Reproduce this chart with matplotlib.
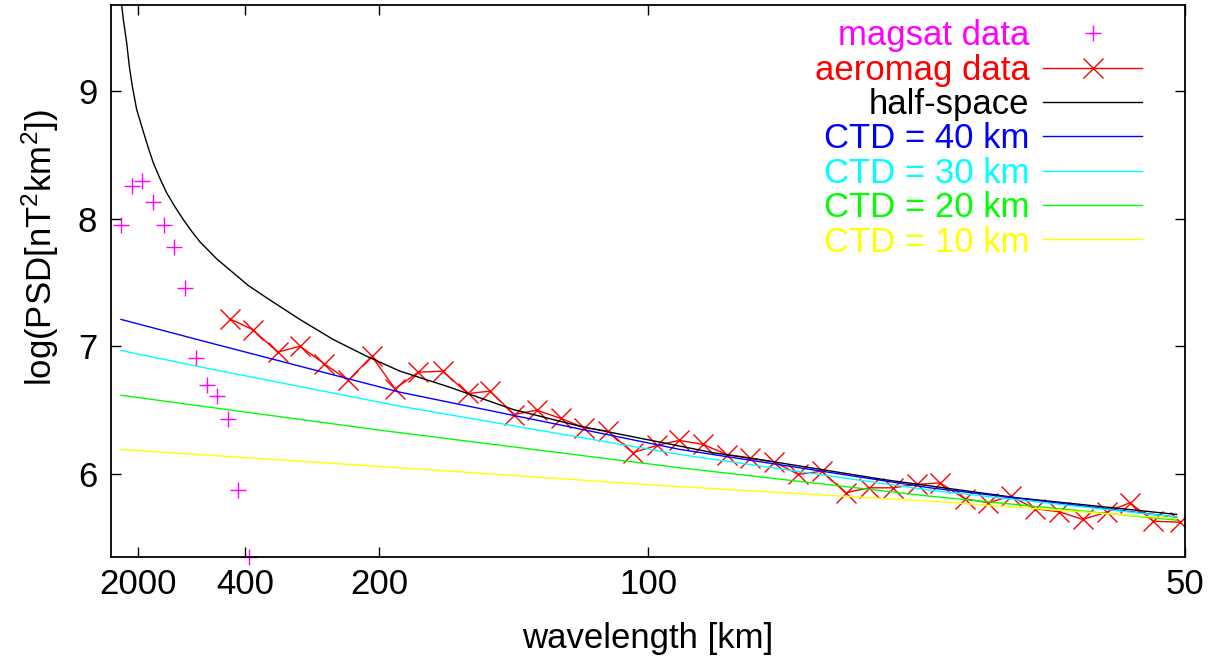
import numpy as np
import matplotlib
matplotlib.use('Agg')
import matplotlib.pyplot as plt

plt.rcParams['font.family'] = ['Liberation Sans', 'DejaVu Sans']
plt.rcParams['mathtext.fontset'] = 'custom'
plt.rcParams['mathtext.rm'] = 'Liberation Sans'
plt.rcParams['mathtext.it'] = 'Liberation Sans'
plt.rcParams['mathtext.default'] = 'rm'

# wavenumber (1/km) and log PSD
magsat_k = [0.000186, 0.000385, 0.000583, 0.000788, 0.000987, 0.001179, 0.001378,
            0.001583, 0.001782, 0.001968, 0.002173, 0.002371, 0.00257]
magsat_psd = [7.955, 8.261, 8.300, 8.130, 7.949, 7.780, 7.455,
              6.910, 6.698, 6.608, 6.431, 5.869, 5.346]

aero_k = [0.002216, 0.002639, 0.003104, 0.003520, 0.003972, 0.004419, 0.004855,
          0.005289, 0.005723, 0.006177, 0.006642, 0.007058, 0.007510, 0.007927,
          0.008380, 0.008814, 0.009261, 0.009715, 0.010162, 0.010581, 0.011030,
          0.011466, 0.011899, 0.012352, 0.012799, 0.013235, 0.013681, 0.014121,
          0.014557, 0.015004, 0.015438, 0.015903, 0.016337, 0.016754, 0.017207,
          0.017659, 0.018095, 0.018542, 0.018976, 0.019410, 0.019907]
aero_psd = [7.215, 7.131, 6.954, 7.001, 6.863, 6.732, 6.922,
            6.667, 6.797, 6.805, 6.630, 6.648, 6.465, 6.499,
            6.434, 6.361, 6.334, 6.165, 6.222, 6.262, 6.230,
            6.151, 6.125, 6.094, 5.995, 6.020, 5.851, 5.890,
            5.890, 5.916, 5.929, 5.804, 5.773, 5.824, 5.726,
            5.702, 5.642, 5.699, 5.773, 5.628, 5.620]

half_k = [0.000186, 0.000230, 0.000292, 0.000341, 0.000397, 0.000478, 0.000590,
          0.000695, 0.000788, 0.000912, 0.001037, 0.001192, 0.001346, 0.001502,
          0.001657, 0.001968, 0.002277, 0.002557, 0.002899, 0.003520, 0.004140,
          0.004762, 0.005382, 0.006251, 0.007492, 0.008734, 0.009976, 0.011216,
          0.012458, 0.014382, 0.016866, 0.019845]
half_psd = [9.719, 9.562, 9.380, 9.196, 9.039, 8.857, 8.700,
            8.556, 8.439, 8.316, 8.203, 8.094, 7.994, 7.902,
            7.819, 7.686, 7.576, 7.477, 7.380, 7.210, 7.053,
            6.922, 6.805, 6.687, 6.504, 6.373, 6.269, 6.165,
            6.086, 5.955, 5.812, 5.681]

ctd40_k = [0.000186, 0.001844, 0.005382, 0.010596, 0.015251, 0.019845]
ctd40_psd = [7.211, 7.027, 6.640, 6.191, 5.890, 5.660]
ctd30_k = [0.000186, 0.001844, 0.005382, 0.010596, 0.015251, 0.019845]
ctd30_psd = [6.967, 6.823, 6.530, 6.151, 5.871, 5.660]
ctd20_k = [0.000186, 0.005010, 0.010596, 0.015251, 0.019845]
ctd20_psd = [6.616, 6.342, 6.047, 5.824, 5.636]
ctd10_k = [0.000186, 0.005382, 0.010410, 0.015251, 0.019845]
ctd10_psd = [6.191, 6.047, 5.903, 5.785, 5.649]

tick_wavelengths = [2000, 400, 200, 100, 50]

fig = plt.figure(figsize=(12.08, 6.67), dpi=100)
ax = fig.add_axes([0.0919, 0.1645, 0.889, 0.8285])

ax.plot(magsat_k, magsat_psd, '+', color='#ff00ff', ms=12, mew=1.0,
        clip_on=False, label='magsat data')
ax.plot(aero_k, aero_psd, '-x', color='#ff0000', ms=15, mew=1.0, lw=1.0, label='aeromag data')
ax.plot(half_k, half_psd, '-', color='black', lw=1.0, label='half-space')
ax.plot(ctd40_k, ctd40_psd, '-', color='#0000ff', lw=1.0, label='CTD = 40 km')
ax.plot(ctd30_k, ctd30_psd, '-', color='#00ffff', lw=1.0, label='CTD = 30 km')
ax.plot(ctd20_k, ctd20_psd, '-', color='#00ff00', lw=1.0, label='CTD = 20 km')
ax.plot(ctd10_k, ctd10_psd, '-', color='#ffff00', lw=1.0, label='CTD = 10 km')

ax.set_xlim(0, 0.02)
ax.set_ylim(5.345, 9.68)
ax.set_xticks([1.0 / w for w in tick_wavelengths])
ax.set_xticklabels([str(w) for w in tick_wavelengths])
ax.set_yticks([6, 7, 8, 9])

ax.tick_params(direction='in', length=7, width=1.0, labelsize=25,
               top=True, right=True, pad=8)
ax.tick_params(axis='y', pad=10)
for s in ax.spines.values():
    s.set_linewidth(1.3)

ax.set_xlabel('wavelength [km]', fontsize=25, labelpad=15)
ax.set_ylabel('log(PSD[nT$^2$km$^2$])', fontsize=25)
ax.yaxis.set_label_coords(-0.047, 0.56)

leg = ax.legend(loc='upper right', bbox_to_anchor=(0.9765, 1.005), frameon=False,
                markerfirst=False, fontsize=25, labelcolor='linecolor',
                handlelength=2.85, handletextpad=0.4, labelspacing=0.04,
                borderpad=0.0, numpoints=1)

fig.savefig('out.png', dpi=100)
